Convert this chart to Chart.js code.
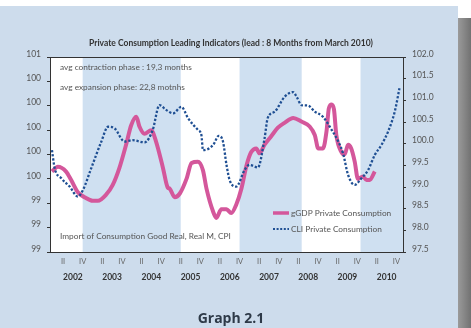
<!DOCTYPE html>
<html><head><meta charset="utf-8">
<script src="https://cdn.jsdelivr.net/npm/chart.js@4"></script>
<style>
html,body{margin:0;padding:0;background:#fff;}
#wrap{position:relative;width:471px;height:328px;overflow:hidden;}
#bg{position:absolute;left:0;top:6px;width:458px;height:322px;background:#cddcec;}
#shadow{position:absolute;left:458px;top:18px;width:13px;height:310px;background:linear-gradient(to right,#9a9a9a,#727272);}
#cv{position:absolute;left:0;top:0;}
#cap{position:absolute;left:0;width:462px;top:308px;text-align:center;font:bold 14px 'Open Sans',sans-serif;color:#2e3a48;line-height:19px;}
</style></head>
<body>
<div id="wrap">
<div id="bg"></div><div id="shadow"></div>
<canvas id="cv" width="471" height="328"></canvas>
<div id="cap">Graph 2.1</div>
</div>
<script>
// ---- data ----
const years = [2002, 2003, 2004, 2005, 2006, 2007, 2008, 2009, 2010];
const quarterLabels = ['II', 'IV'];
const leftTickValues = [99.0, 99.2, 99.4, 99.6, 99.8, 100.0, 100.2, 100.4, 100.6];
const leftTickLabels = ['99', '99', '99', '100', '100', '100', '100', '100', '101'];
const rightTickValues = [97.5, 98.0, 98.5, 99.0, 99.5, 100.0, 100.5, 101.0, 101.5, 102.0];
const rightTickLabels = ['97.5', '98.0', '98.5', '99.0', '99.5', '100.0', '100.5', '101.0', '101.5', '102.0'];
const bandStarts = [2002.833, 2006.833, 2009.917];
const bandEnds = [2005.333, 2008.417, 2011.0];

const gdpTimes = [2002.05, 2002.20, 2002.41, 2002.54, 2002.71, 2002.88, 2003.09, 2003.22, 2003.43, 2003.60, 2003.77, 2003.94,
  2004.07, 2004.20, 2004.28, 2004.41, 2004.58, 2004.70, 2004.88, 2005.00, 2005.05, 2005.18, 2005.31, 2005.48, 2005.61, 2005.77,
  2005.90, 2005.99, 2006.16, 2006.24, 2006.37, 2006.50, 2006.62, 2006.75, 2006.88, 2007.01, 2007.13, 2007.26, 2007.34, 2007.47,
  2007.64, 2007.81, 2007.98, 2008.20, 2008.41, 2008.62, 2008.75, 2008.84, 2008.96, 2009.05, 2009.11, 2009.18, 2009.24, 2009.30,
  2009.43, 2009.51, 2009.60, 2009.68, 2009.77, 2009.85, 2009.98, 2010.07, 2010.15, 2010.28];
const gdpValues = [99.66, 99.70, 99.66, 99.59, 99.49, 99.45, 99.42, 99.42, 99.47, 99.55, 99.69, 99.88,
  100.04, 100.11, 100.03, 99.97, 100.00, 99.91, 99.69, 99.53, 99.52, 99.45, 99.48, 99.60, 99.73, 99.74,
  99.67, 99.52, 99.33, 99.28, 99.35, 99.35, 99.32, 99.39, 99.52, 99.71, 99.82, 99.85, 99.81, 99.88,
  99.95, 100.02, 100.06, 100.10, 100.07, 100.03, 99.96, 99.85, 99.85, 99.99, 100.18, 100.21, 100.17, 99.96,
  99.82, 99.80, 99.88, 99.85, 99.74, 99.60, 99.62, 99.59, 99.59, 99.66];

const cliTimes = [2002.05, 2002.12, 2002.29, 2002.50, 2002.71, 2002.84, 2003.05, 2003.31, 2003.48, 2003.65, 2003.90,
  2004.11, 2004.41, 2004.62, 2004.79, 2004.96, 2005.14, 2005.35, 2005.52, 2005.77, 2005.86, 2005.90, 2006.16, 2006.30,
  2006.41, 2006.50, 2006.58, 2006.75, 2006.96, 2007.09, 2007.30, 2007.47, 2007.55, 2007.73, 2007.98, 2008.20, 2008.29,
  2008.41, 2008.58, 2008.75, 2008.96, 2009.18, 2009.35, 2009.47, 2009.60, 2009.77, 2009.94, 2010.11, 2010.28, 2010.45,
  2010.62, 2010.79, 2010.91];
const cliValues = [99.85, 99.43, 99.20, 99.01, 98.78, 98.93, 99.43, 100.05, 100.39, 100.35, 100.05,
  100.08, 100.03, 100.32, 100.89, 100.78, 100.70, 100.85, 100.59, 100.32, 100.20, 99.85, 99.97, 100.18,
  100.05, 99.51, 99.16, 99.01, 99.39, 99.51, 99.45, 100.12, 100.59, 100.74, 101.08, 101.19, 101.08,
  100.89, 100.88, 100.74, 100.62, 100.32, 100.05, 99.78, 99.28, 99.05, 99.20, 99.39, 99.74, 99.97,
  100.28, 100.74, 101.28];

const titleText = 'Private Consumption Leading Indicators (lead : 8 Months from March 2010)';
const noteTexts = ['avg contraction phase : 19,3 months', 'avg expansion phase: 22,8 motnhs', 'Import of Consumption Good Real, Real M, CPI'];
const legendLabels = ['gGDP Private Consumption', 'CLI Private Consumption'];

// ---- styles ----
const PINK = '#d4579b';
const NAVY = '#1f4f93';
const BAND = '#cfe0f1';
const FONT = "Lato, 'Open Sans', sans-serif";

const decor = {
  id: 'decor',
  beforeDraw(chart) {
    const { ctx, chartArea: a, scales: { x } } = chart;
    ctx.save();
    ctx.fillStyle = '#ffffff';
    ctx.fillRect(a.left, a.top, a.right - a.left, a.bottom - a.top);
    ctx.fillStyle = BAND;
    bandStarts.forEach((s, i) => {
      const x0 = x.getPixelForValue(s), x1 = x.getPixelForValue(bandEnds[i]);
      ctx.fillRect(x0, a.top, x1 - x0, a.bottom - a.top);
    });
    ctx.restore();
  },
  afterDraw(chart) {
    const { ctx, chartArea: a } = chart;
    ctx.save();
    ctx.strokeStyle = '#333';
    ctx.lineWidth = 1;
    ctx.beginPath(); ctx.moveTo(a.left, a.top + 0.5); ctx.lineTo(a.right, a.top + 0.5); ctx.stroke();
    ctx.fillStyle = '#333';
    ctx.font = 'bold 8.5px ' + FONT;
    ctx.textAlign = 'center'; ctx.textBaseline = 'middle';
    ctx.fillText(titleText, 231, 43);
    ctx.fillStyle = '#555';
    ctx.font = '8.3px ' + FONT;
    ctx.textAlign = 'left';
    ctx.fillText(noteTexts[0], 60, 67);
    ctx.fillText(noteTexts[1], 60, 87);
    ctx.fillText(noteTexts[2], 60, 236);
    ctx.font = '8.3px ' + FONT;
    ctx.lineWidth = 3.5; ctx.strokeStyle = PINK; ctx.setLineDash([]);
    ctx.beginPath(); ctx.moveTo(273, 213); ctx.lineTo(289, 213); ctx.stroke();
    ctx.lineWidth = 2; ctx.strokeStyle = NAVY; ctx.setLineDash([2, 1.6]);
    ctx.beginPath(); ctx.moveTo(273, 229); ctx.lineTo(289, 229); ctx.stroke();
    ctx.setLineDash([]);
    ctx.fillStyle = '#555';
    ctx.fillText(legendLabels[0], 291, 213);
    ctx.fillText(legendLabels[1], 291, 229);
    ctx.restore();
  }
};

new Chart(document.getElementById('cv'), {
  type: 'line',
  data: {
    datasets: [
      { label: legendLabels[0], data: gdpTimes.map((t, i) => ({ x: t, y: gdpValues[i] })), yAxisID: 'y',
        borderColor: PINK, borderWidth: 4, pointRadius: 0, cubicInterpolationMode: 'monotone', order: 1, fill: false },
      { label: legendLabels[1], data: cliTimes.map((t, i) => ({ x: t, y: cliValues[i] })), yAxisID: 'y1',
        borderColor: NAVY, borderWidth: 2.3, borderDash: [2.3, 1.8], pointRadius: 0, cubicInterpolationMode: 'monotone', order: 0, fill: false }
    ]
  },
  options: {
    responsive: false,
    animation: false,
    layout: { padding: { top: 57, left: 0, right: 0, bottom: 0 } },
    plugins: { legend: { display: false }, title: { display: false }, tooltip: { enabled: false } },
    scales: {
      x: {
        type: 'linear', position: 'bottom', min: 2002, max: 2011, weight: 0,
        afterBuildTicks: s => { s.ticks = []; years.forEach(y => { s.ticks.push({ value: y + 4 / 12 }); s.ticks.push({ value: y + 10 / 12 }); }); },
        afterFit: s => { s.height = 18; },
        grid: { display: true, drawOnChartArea: false, drawTicks: false },
        border: { display: true, color: '#333', width: 1 },
        ticks: { autoSkip: false, maxRotation: 0, padding: 5, color: '#666', font: { family: FONT, size: 7.5 },
          callback: (v, i) => quarterLabels[i % 2] }
      },
      x2: {
        type: 'linear', position: 'bottom', min: 2002, max: 2011, weight: 1,
        afterBuildTicks: s => { s.ticks = years.map(y => ({ value: y + 7 / 12 })); },
        afterFit: s => { s.height = 58; },
        grid: { display: false, drawTicks: false },
        border: { display: false },
        ticks: { autoSkip: false, maxRotation: 0, padding: 2, color: '#333', font: { family: FONT, size: 8.5, weight: 'bold' },
          callback: (v, i) => String(years[i]) }
      },
      y: {
        type: 'linear', position: 'left', min: 99.0, max: 100.6,
        afterBuildTicks: s => { s.ticks = leftTickValues.map(v => ({ value: v })); },
        afterFit: s => { s.width = 50; },
        grid: { drawOnChartArea: false, drawTicks: true, tickLength: 3, color: '#333' },
        border: { display: true, color: '#333', width: 1 },
        ticks: { padding: 6, color: '#555', labelOffset: -3, font: { family: FONT, size: 8.5 },
          callback: (v, i) => leftTickLabels[i] }
      },
      y1: {
        type: 'linear', position: 'right', min: 97.5, max: 102.0,
        afterBuildTicks: s => { s.ticks = rightTickValues.map(v => ({ value: v })); },
        afterFit: s => { s.width = 68; },
        grid: { drawOnChartArea: false, drawTicks: true, tickLength: 3, color: '#333' },
        border: { display: true, color: '#333', width: 1 },
        ticks: { padding: 6, color: '#555', labelOffset: -3, font: { family: FONT, size: 8.5 },
          callback: (v, i) => rightTickLabels[i] }
      }
    }
  },
  plugins: [decor]
});
</script>
</body></html>
